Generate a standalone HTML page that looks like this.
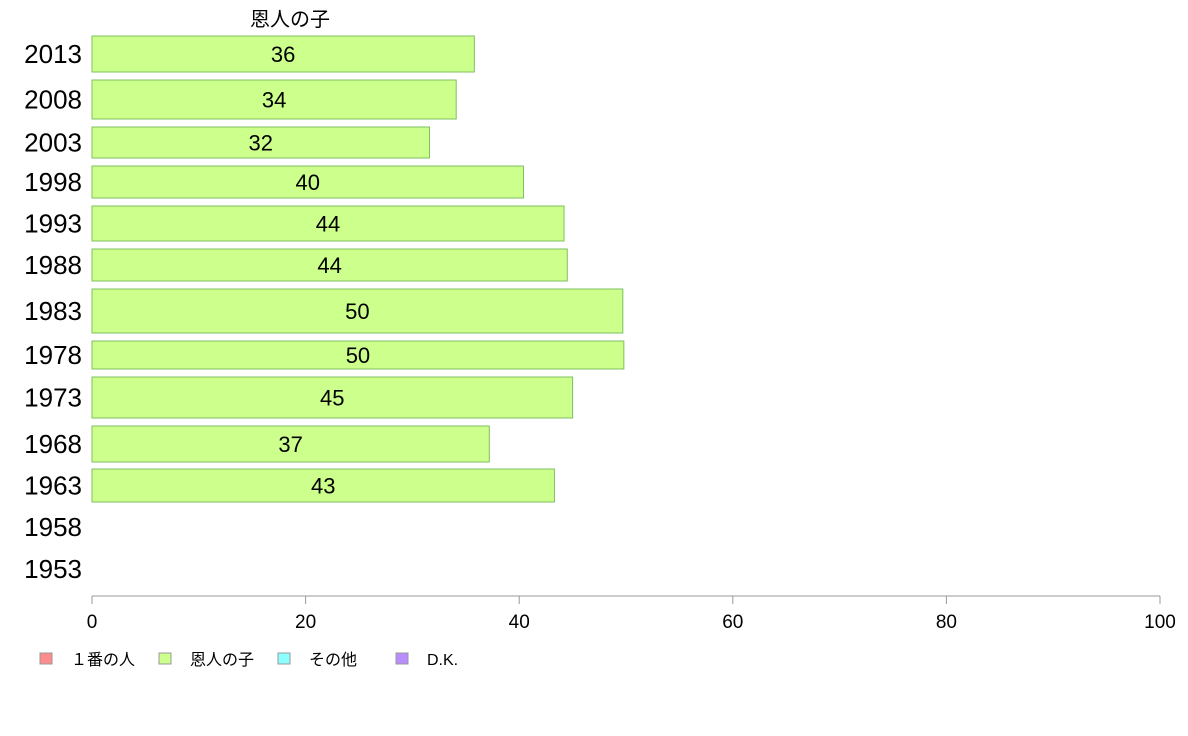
<!DOCTYPE html>
<html><head><meta charset="utf-8"><style>
body{margin:0;background:#fff;}
svg{display:block;font-family:"Liberation Sans","Noto Sans CJK JP",sans-serif;}
</style></head><body>
<svg id="chart" width="1188" height="736">
<text x="290" y="26" font-size="20" text-anchor="middle">恩人の子</text>
<g id="bars"></g>
<g id="xaxis"></g>
<g id="legend"></g>
</svg>
<script>
const years = ["2013","2008","2003","1998","1993","1988","1983","1978","1973","1968","1963","1958","1953"];
const values = [35.8,34.1,31.6,40.4,44.2,44.5,49.7,49.8,45.0,37.2,43.3,null,null];
const labels = ["36","34","32","40","44","44","50","50","45","37","43","",""];
const xTicks = [0,20,40,60,80,100];
const legendNames = ["１番の人","恩人の子","その他","D.K."];
const legendColors = ["#ff8c8c","#ccff8c","#8cffff","#b98cff"];
// layout geometry (pixel rows, not data)
const rowTop = [36,80,127,166,206,249,289,341,377,426,469,511,553];
const rowBot = [72,119,158,198,241,281,333,369,418,462,502,543,585];
const NS="http://www.w3.org/2000/svg";
const x = v => 92 + v*10.68;
function mk(t,a,p){const e=document.createElementNS(NS,t);for(const k in a)e.setAttribute(k,a[k]);p.appendChild(e);return e;}
const gb=document.getElementById('bars');
years.forEach((y,i)=>{
  const cy=(rowTop[i]+rowBot[i])/2;
  const yl=mk('text',{x:82,y:cy+9,'font-size':26,'text-anchor':'end'},gb);
  yl.textContent=y;
  
  
  if(values[i]==null)return;
  const r=mk('rect',{x:x(0),y:rowTop[i],width:x(values[i])-x(0),height:rowBot[i]-rowTop[i],fill:"#ccff8c",stroke:"#7fbf5f","stroke-width":1},gb);
  
  
  const t=mk('text',{x:(x(0)+x(values[i]))/2,y:cy+8,'font-size':22,'text-anchor':'middle'},gb);
  t.textContent=labels[i];
  
  
});
const gx=document.getElementById('xaxis');
mk('line',{x1:x(0),x2:x(100),y1:596,y2:596,stroke:"#999"},gx);
xTicks.forEach(v=>{
  mk('line',{x1:x(v),x2:x(v),y1:596,y2:604,stroke:"#999"},gx);
  const t=mk('text',{x:x(v),y:628,'font-size':19,'text-anchor':'middle'},gx);
  t.textContent=v;
  
  
});
const gl=document.getElementById('legend');
const lx=[40,159,278,396];
legendNames.forEach((n,i)=>{
  const r=mk('rect',{x:lx[i],y:653,width:12,height:11,fill:legendColors[i],stroke:"#999"},gl);
  
  
  const t=mk('text',{x:lx[i]+31,y:665,'font-size':16},gl);
  t.textContent=n;
  
  
});
</script>
</body></html>
